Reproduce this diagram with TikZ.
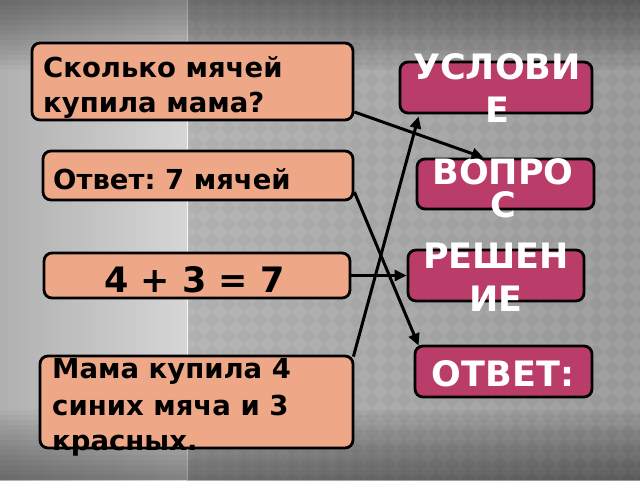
\documentclass[tikz,border=0pt]{standalone}
\usepackage{fontspec}
\setmainfont{DejaVu Sans}
\usetikzlibrary{arrows.meta}
\frenchspacing
\definecolor{salmon}{RGB}{238,168,136}
\definecolor{berry}{RGB}{186,60,104}
\definecolor{leftA}{RGB}{176,176,176}
\definecolor{leftB}{RGB}{214,214,214}
\definecolor{rightA}{RGB}{176,176,176}
\definecolor{rightB}{RGB}{150,150,150}
\tikzset{
  lbox/.style={draw=black, line width=2.8pt, fill=salmon, rounded corners=8pt, inner sep=0pt},
  rbox/.style={draw=black, line width=2.8pt, fill=berry, rounded corners=8pt, inner sep=0pt},
  ltext/.style={font=\bfseries\fontsize{27.5}{32}\selectfont, text=black, inner sep=0pt},
  rtext/.style={font=\bfseries\fontsize{35}{40}\selectfont, text=white, inner sep=0pt},
  conn/.style={line width=3pt, draw=black, -{Triangle[length=12pt,width=11pt]}},
}
\begin{document}
\begin{tikzpicture}[x=1pt,y=-1pt]
\useasboundingbox (0,0) rectangle (640,480);
% background
\shade[left color=leftA, right color=leftB] (0,0) rectangle (187,480);
\shade[left color=rightA, right color=rightB] (187,0) rectangle (640,480);
\begin{scope}
\clip (188,0) rectangle (640,480);
\foreach \i in {0,...,29}{
  \foreach \j in {0,...,30}{
    \fill[white, opacity=0.08] (188+\i*16,\j*16) -- ++(8,8) -- ++(-8,8) -- ++(-8,-8) -- cycle;
  }
}
\end{scope}
\fill[white, opacity=0.9] (186.5,0) rectangle (188,480);
\foreach \k in {0,...,13}{
  \fill[black, opacity=0.03] (0,0) rectangle (640,{5*(\k+1)});
  \fill[black, opacity=0.03] (0,480) rectangle (640,{480-5*(\k+1)});
}
% left boxes
\node[lbox, minimum width=321pt, minimum height=77pt] (b1) at (192.5,81.5) {};
\node[lbox, minimum width=310pt, minimum height=49pt] (b2) at (198,175.5) {};
\node[lbox, minimum width=306pt, minimum height=45pt] (b3) at (197,275.5) {};
\node[lbox, minimum width=313pt, minimum height=92pt] (b4) at (196.5,402) {};
% right boxes
\node[rbox, minimum width=192pt, minimum height=51pt] (r1) at (496,87.5) {};
\node[rbox, minimum width=177pt, minimum height=50pt] (r2) at (505.5,184) {};
\node[rbox, minimum width=176pt, minimum height=51pt] (r3) at (496,275.5) {};
\node[rbox, minimum width=177pt, minimum height=51pt] (r4) at (503.5,371.5) {};
% left texts
\node[ltext, anchor=base west] (t1a) at (43,77) {Сколько мячей};
\node[ltext, anchor=base west] (t1b) at (43,112) {купила мама?};
\node[ltext, anchor=base west] (t2) at (53,189) {Ответ: 7 мячей};
\node[ltext, anchor=base, font=\bfseries\fontsize{35}{40}\selectfont] (t3) at (194.5,292) {4 + 3 = 7};
\node[ltext, anchor=base west] (t4a) at (52,378) {Мама купила 4};
\node[ltext, anchor=base west] (t4b) at (52,415) {синих мяча и 3};
\node[ltext, anchor=base west] (t4c) at (52,450) {красных.};
% right texts
\node[rtext, anchor=base] (u1) at (497,79) {УСЛОВИ};
\node[rtext, anchor=base] (u2) at (497,122) {Е};
\node[rtext, anchor=base] (v1) at (503,184) {ВОПРО};
\node[rtext, anchor=base] (v2) at (503,217) {С};
\node[rtext, anchor=base] (p1) at (496,268) {РЕШЕН};
\node[rtext, anchor=base] (p2) at (496,311) {ИЕ};
\node[rtext, anchor=base] (o1) at (503,386) {ОТВЕТ:};
% connectors
\draw[conn] ([yshift=-30.5pt]b1.east) -- ([xshift=68pt]r2.north west);
\draw[conn] ([yshift=-16.5pt]b2.east) -- ([xshift=5pt,yshift=-1pt]r4.north west);
\draw[conn] (b3.east) -- (r3.west);
\draw[conn] ([xshift=-1pt,yshift=-2pt]b4.north east) -- ([xshift=20pt,yshift=-2pt]r1.south west);
\end{tikzpicture}
\end{document}
